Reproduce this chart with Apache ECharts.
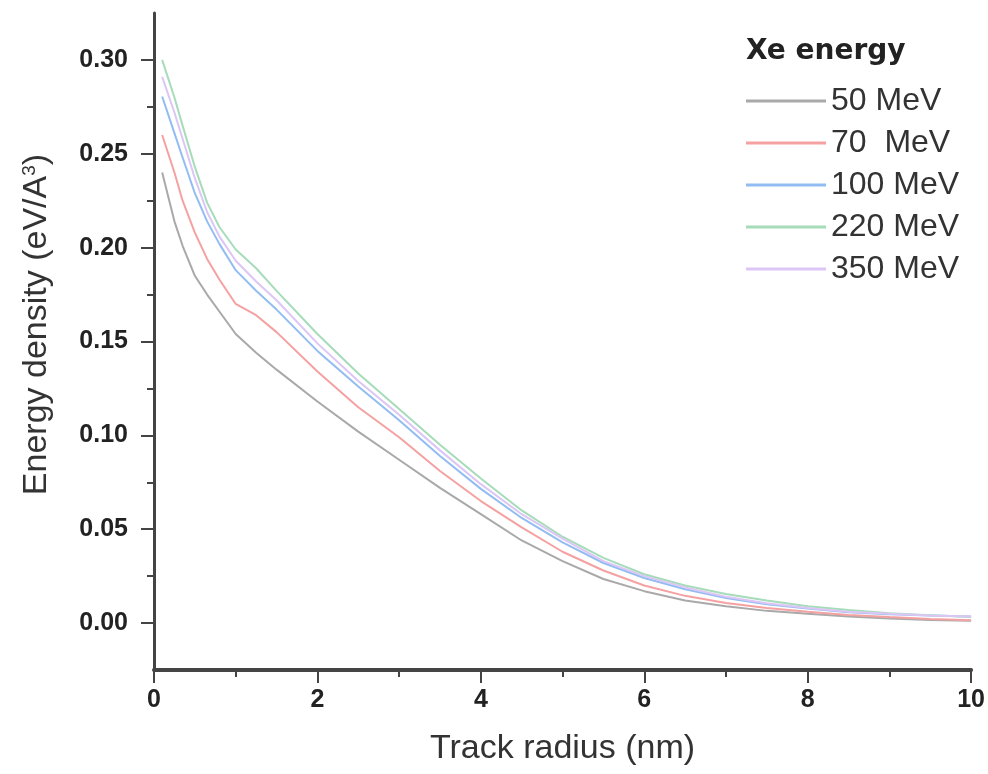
<!DOCTYPE html>
<html>
<head>
<meta charset="utf-8">
<script src="https://cdn.jsdelivr.net/npm/echarts@6/dist/echarts.min.js"></script>
<style>html,body{margin:0;padding:0;background:#fff}#c{width:988px;height:774px}</style>
</head>
<body>
<div id="c"></div>
<script>
// Track radius (nm)
const radius = [0.1,0.25,0.35,0.5,0.65,0.8,1.0,1.25,1.5,2,2.5,3,3.5,4,4.5,5,5.5,6,6.5,7,7.5,8,8.5,9,9.5,10];
const seriesNames = ['50 MeV','70  MeV','100 MeV','220 MeV','350 MeV'];
const e50  = [0.240,0.214,0.201,0.185,0.175,0.166,0.154,0.144,0.135,0.118,0.102,0.087,0.072,0.058,0.044,0.033,0.0235,0.017,0.012,0.009,0.0065,0.005,0.0035,0.0025,0.0017,0.0012];
const e70  = [0.260,0.240,0.225,0.208,0.194,0.183,0.170,0.164,0.155,0.134,0.115,0.099,0.081,0.065,0.051,0.038,0.028,0.020,0.0145,0.0107,0.008,0.006,0.0043,0.0032,0.0022,0.0015];
const e100 = [0.2805,0.261,0.248,0.229,0.214,0.202,0.188,0.177,0.167,0.145,0.126,0.108,0.089,0.0715,0.056,0.043,0.032,0.024,0.018,0.0134,0.010,0.0077,0.0058,0.0047,0.004,0.0035];
const e220 = [0.300,0.280,0.265,0.243,0.224,0.211,0.199,0.189,0.177,0.154,0.133,0.114,0.095,0.077,0.060,0.046,0.0347,0.026,0.020,0.0155,0.012,0.009,0.007,0.0052,0.0042,0.0032];
const e350 = [0.291,0.272,0.258,0.237,0.219,0.206,0.193,0.182,0.172,0.149,0.129,0.111,0.092,0.074,0.058,0.045,0.033,0.025,0.019,0.014,0.0105,0.008,0.006,0.005,0.004,0.0035];
const colors = ['#a9a9a9','#f5a1a1','#92bdf2','#a6dcb9','#dcc6f5'];
const yMajor = [0,0.05,0.10,0.15,0.20,0.25,0.30];
const yMinor = [0.025,0.075,0.125,0.175,0.225,0.275];

const values = [e50,e70,e100,e220,e350];
const series = values.map((arr,i)=>({
  name: seriesNames[i],
  type: 'line',
  symbol: 'none',
  smooth: false,
  xAxisIndex: 0, yAxisIndex: 0,
  lineStyle: {color: colors[i], width: 2},
  itemStyle: {color: colors[i]},
  data: radius.map((x,j)=>[x,arr[j]])
}));

const axisColor = '#444';
const labelFont = {fontFamily:'Liberation Sans, Arial, sans-serif', fontWeight:'bold', fontSize:25, color:'#222'};
const chart = echarts.init(document.getElementById('c'));
chart.setOption({
  animation: false,
  backgroundColor: '#fff',
  title: {
    text: 'Xe energy', left: 741, top: 33,
    textStyle: {fontFamily:'DejaVu Sans, sans-serif', fontWeight:'bold', fontSize:28, color:'#222'}
  },
  legend: {
    orient: 'vertical', left: 741, top: 80,
    icon: 'rect',
    itemWidth: 80, itemHeight: 3, itemGap: 10,
    data: seriesNames,
    textStyle: {fontFamily:'Liberation Sans, Arial, sans-serif', fontSize:32, color:'#333', lineHeight:30}
  },
  grid: {left:154, right:16, top:13, bottom:104, containLabel:false},
  xAxis: [{
    type:'value', min:0, max:10, interval:2,
    name:'Track radius (nm)', nameLocation:'middle', nameGap:62,
    nameTextStyle:{fontFamily:'Liberation Sans, Arial, sans-serif', fontSize:34, color:'#333'},
    axisLine:{onZero:false, lineStyle:{color:axisColor, width:4}},
    axisTick:{show:true, inside:false, length:13, lineStyle:{color:axisColor, width:2}},
    minorTick:{show:true, splitNumber:2, length:7, lineStyle:{color:axisColor, width:2}},
    axisLabel:Object.assign({margin:18}, labelFont),
    splitLine:{show:false}, minorSplitLine:{show:false}
  }],
  yAxis: [{
    type:'value', min:-0.025, max:0.325,
    name:'Energy density (eV/A{sup|3})', nameLocation:'middle', nameGap:100,
    nameTextStyle:{fontFamily:'Liberation Sans, Arial, sans-serif', fontSize:34, color:'#333', padding:[0,0,0,34],
      rich:{sup:{fontFamily:'Liberation Sans, Arial, sans-serif', fontSize:19, color:'#333', verticalAlign:'top', padding:[0,0,14,0]}}},
    axisLine:{onZero:false, lineStyle:{color:axisColor, width:3}},
    axisTick:{show:true, length:13, customValues:yMajor, lineStyle:{color:axisColor, width:2}},
    axisLabel:Object.assign({margin:26, customValues:yMajor, formatter:(v)=>v.toFixed(2)}, labelFont),
    splitLine:{show:false}
  },{
    type:'value', min:-0.025, max:0.325, position:'left', offset:0,
    axisLine:{show:false, onZero:false},
    axisTick:{show:true, length:7, customValues:yMinor, lineStyle:{color:axisColor, width:2}},
    axisLabel:{show:false},
    splitLine:{show:false}
  }],
  series: series
});
</script>
</body>
</html>
